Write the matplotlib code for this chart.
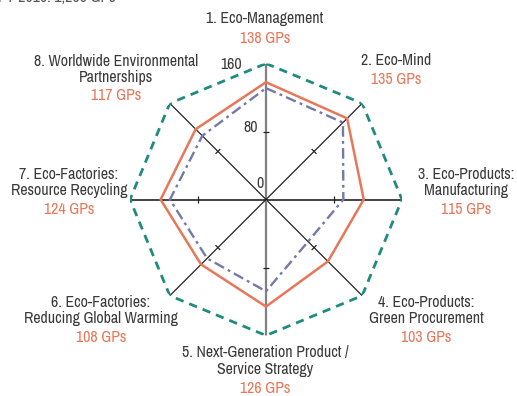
import numpy as np
import matplotlib
matplotlib.use('Agg')
from matplotlib import pyplot as plt
from matplotlib import font_manager

# procura uma fonte condensada; se nao houver, usa Roboto
nomes_fontes = sorted(set(f.name for f in font_manager.fontManager.ttflist))
condensadas = [f for f in nomes_fontes if 'Narrow' in f or 'Condensed' in f]
familia = condensadas[0] if condensadas else 'Roboto'
plt.rcParams['font.family'] = [familia, 'DejaVu Sans']

# dados
categorias = ['1. Eco-Management',
              '2. Eco-Mind',
              '3. Eco-Products:\nManufacturing',
              '4. Eco-Products:\nGreen Procurement',
              '5. Next-Generation Product /\nService Strategy',
              '6. Eco-Factories:\nReducing Global Warming',
              '7. Eco-Factories:\nResource Recycling',
              '8. Worldwide Environmental\nPartnerships']
gps_2016 = [138, 135, 115, 103, 126, 108, 124, 117]
gps_anterior = [131, 128, 91, 70, 108, 98, 113, 106]
meta = [160, 160, 160, 160, 160, 160, 160, 160]
r_ticks = [0, 80, 160]
titulo_cortado = 'FY 2016: 1,266 GPs'

cor_laranja = '#E8775A'
cor_azul = '#7479A9'
cor_verde = '#1E8B7E'
cor_texto = '#3a3a3a'

W, H = 517, 396
fig = plt.figure(figsize=(W/100, H/100), dpi=100)

# tamanho da fonte: "Reducing Global Warming" tem ~154 px no original
ren = fig.canvas.get_renderer()
t = fig.text(0, 0, 'Reducing Global Warming', fontsize=10)
larg = t.get_window_extent(ren).width
t.remove()
fs = min(11.6, 10 * 154.0 / larg)

# centro do radar em pixels e raio
cx, cy, raio = 266, 199.5, 136
ax = fig.add_axes([(cx-raio)/W, (H-cy-raio)/H, 2*raio/W, 2*raio/H], projection='polar')
ax.set_theta_zero_location('N')
ax.set_theta_direction(-1)
ax.set_ylim(0, 160)
ax.axis('off')

n = len(categorias)
ang = np.arange(n) * 2*np.pi/n

# eixos radiais com marca em 80
meia = 4.0   # meia largura da marca, em unidades do raio
dth = np.arctan(meia / 80.0)
r_marca = np.hypot(80.0, meia)
for i in range(n):
    if i in (0, 4):
        cor, lw = '#808080', 1.6
    elif i in (2, 6):
        cor, lw = '#222222', 1.2
    else:
        cor, lw = '#222222', 0.9
    ax.plot([0, ang[i]], [0, 160], color=cor, lw=lw, zorder=1,
            solid_capstyle='butt')
    ax.plot([ang[i] - dth, ang[i] + dth], [r_marca, r_marca],
            color='#222222', lw=0.9, zorder=2, solid_capstyle='butt')

def fecha(v):
    return list(v) + [v[0]]

ang_f = fecha(list(ang))
ax.plot(ang_f, fecha(meta), color=cor_verde, lw=2.0, ls=(0, (3, 2.2)), zorder=3)
ax.plot(ang_f, fecha(gps_anterior), color=cor_azul, lw=1.7,
        ls=(0, (4.5, 1.8, 1.2, 1.8)), zorder=4)
ax.plot(ang_f, fecha(gps_2016), color=cor_laranja, lw=1.8, zorder=5)

# rotulos da escala
for rv, (px, py) in zip(r_ticks, [(264, 182.5), (258, 126), (242, 63.5)]):
    fig.text(px/W, 1 - (py+5.8)/H, str(rv), ha='right', va='baseline',
             fontsize=fs, color=cor_texto)

# posicoes dos rotulos (centro x, y da 1a linha, y da linha de GPs)
pos_rotulos = [(265, 17.5, 37), (396, 59, 78.5), (466, 173, 208.5),
               (426.5, 301, 336), (265.5, 351.7, 387), (101, 301, 336),
               (69, 173, 208.3), (116, 59.7, 94)]
passo = 16.6

for nome, v, (px, py, pg) in zip(categorias, gps_2016, pos_rotulos):
    for k, linha in enumerate(nome.split('\n')):
        fig.text(px/W, 1 - (py + k*passo + 5.8)/H, linha, ha='center',
                 va='baseline', fontsize=fs, color=cor_texto)
    fig.text(px/W, 1 - (pg + 5.8)/H, '%d GPs' % v, ha='center',
             va='baseline', fontsize=fs, color=cor_laranja)

fig.text(-2/W, 1 - 1.5/H, titulo_cortado, ha='left', va='baseline',
         fontsize=fs, color='#555555')

fig.savefig('out.png', dpi=100)
